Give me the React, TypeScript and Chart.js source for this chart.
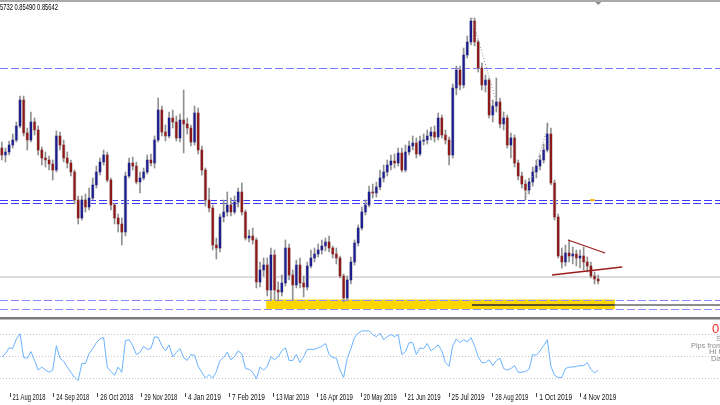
import React, { useEffect, useRef } from "react";
import { Chart, registerables } from "chart.js";
Chart.register(...registerables);

// ---- Daily EURGBP-style candles (2 sessions per candle) ----
const opens = [
  0.8956, 0.8935, 0.8944, 0.8965, 0.8980, 0.9022, 0.9100, 0.9001, 0.8980, 0.9034,
  0.9010, 0.8950, 0.8926, 0.8920, 0.8908, 0.8890, 0.8992, 0.8965, 0.8926, 0.8911,
  0.8884, 0.8800, 0.8746, 0.8800, 0.8779, 0.8806, 0.8845, 0.8884, 0.8914, 0.8935,
  0.8860, 0.8785, 0.8746, 0.8728, 0.8704, 0.8872, 0.8911, 0.8902, 0.8854, 0.8866,
  0.8884, 0.8920, 0.8911, 0.8980, 0.9070, 0.9004, 0.8992, 0.9046, 0.9034, 0.8986,
  0.9040, 0.9028, 0.9016, 0.8974, 0.9061, 0.8950, 0.8890, 0.8800, 0.8776, 0.8665,
  0.8656, 0.8749, 0.8764, 0.8785, 0.8764, 0.8794, 0.8824, 0.8764, 0.8686, 0.8692,
  0.8680, 0.8554, 0.8590, 0.8605, 0.8530, 0.8635, 0.8530, 0.8524, 0.8551, 0.8656,
  0.8575, 0.8545, 0.8605, 0.8551, 0.8539, 0.8602, 0.8626, 0.8638, 0.8650, 0.8662,
  0.8674, 0.8656, 0.8638, 0.8626, 0.8572, 0.8506, 0.8560, 0.8614, 0.8671, 0.8716,
  0.8764, 0.8785, 0.8824, 0.8821, 0.8839, 0.8866, 0.8884, 0.8905, 0.8917, 0.8911,
  0.8941, 0.8890, 0.8944, 0.8962, 0.8971, 0.8938, 0.8977, 0.8980, 0.8992, 0.9004,
  0.8989, 0.9046, 0.8995, 0.8980, 0.8935, 0.9136, 0.9190, 0.9145, 0.9235, 0.9274,
  0.9337, 0.9274, 0.9196, 0.9145, 0.9160, 0.9055, 0.9082, 0.9094, 0.9028, 0.9046,
  0.8965, 0.8986, 0.8911, 0.8872, 0.8848, 0.8830, 0.8854, 0.8884, 0.8902, 0.8920,
  0.8950, 0.8998, 0.8851, 0.8749, 0.8632, 0.8614, 0.8641, 0.8632, 0.8638, 0.8626,
  0.8632, 0.8614, 0.8602, 0.8572, 0.8563,
];
const highs = [
  0.8974, 0.8956, 0.8977, 0.8998, 0.9034, 0.9112, 0.9112, 0.9016, 0.9064, 0.9046,
  0.9022, 0.8959, 0.8944, 0.8932, 0.8920, 0.9007, 0.9004, 0.8980, 0.8944, 0.8920,
  0.8890, 0.8812, 0.8812, 0.8818, 0.8836, 0.8866, 0.8902, 0.8926, 0.8950, 0.8944,
  0.8866, 0.8791, 0.8758, 0.8746, 0.8884, 0.8926, 0.8929, 0.8914, 0.8884, 0.8896,
  0.8935, 0.8938, 0.8992, 0.9106, 0.9082, 0.9025, 0.9064, 0.9070, 0.9052, 0.9058,
  0.9130, 0.9046, 0.9025, 0.9082, 0.9076, 0.8962, 0.8896, 0.8836, 0.8785, 0.8686,
  0.8758, 0.8800, 0.8824, 0.8806, 0.8812, 0.8836, 0.8851, 0.8770, 0.8710, 0.8716,
  0.8686, 0.8614, 0.8626, 0.8626, 0.8656, 0.8650, 0.8554, 0.8575, 0.8680, 0.8668,
  0.8590, 0.8620, 0.8626, 0.8572, 0.8614, 0.8650, 0.8656, 0.8668, 0.8680, 0.8686,
  0.8692, 0.8662, 0.8656, 0.8632, 0.8578, 0.8572, 0.8629, 0.8680, 0.8725, 0.8779,
  0.8800, 0.8842, 0.8848, 0.8854, 0.8890, 0.8905, 0.8920, 0.8935, 0.8938, 0.8956,
  0.8956, 0.8965, 0.8977, 0.8992, 0.8986, 0.8992, 0.8998, 0.9010, 0.9019, 0.9022,
  0.9061, 0.9055, 0.9010, 0.8989, 0.9148, 0.9202, 0.9202, 0.9256, 0.9292, 0.9346,
  0.9346, 0.9280, 0.9211, 0.9175, 0.9166, 0.9100, 0.9166, 0.9106, 0.9064, 0.9055,
  0.9001, 0.8995, 0.8920, 0.8884, 0.8860, 0.8866, 0.8899, 0.8920, 0.8935, 0.8968,
  0.9031, 0.9016, 0.8860, 0.8758, 0.8656, 0.8665, 0.8680, 0.8659, 0.8650, 0.8650,
  0.8659, 0.8629, 0.8614, 0.8584, 0.8575,
];
const lows = [
  0.8920, 0.8914, 0.8935, 0.8956, 0.8974, 0.9016, 0.8992, 0.8950, 0.8974, 0.8995,
  0.8935, 0.8905, 0.8899, 0.8890, 0.8860, 0.8884, 0.8950, 0.8914, 0.8896, 0.8872,
  0.8788, 0.8728, 0.8740, 0.8764, 0.8770, 0.8800, 0.8836, 0.8875, 0.8905, 0.8854,
  0.8770, 0.8728, 0.8704, 0.8665, 0.8692, 0.8866, 0.8890, 0.8848, 0.8821, 0.8860,
  0.8878, 0.8902, 0.8896, 0.8974, 0.8992, 0.8977, 0.8986, 0.9016, 0.8977, 0.8974,
  0.8941, 0.8998, 0.8962, 0.8965, 0.8938, 0.8875, 0.8782, 0.8764, 0.8650, 0.8623,
  0.8644, 0.8734, 0.8752, 0.8752, 0.8758, 0.8779, 0.8755, 0.8680, 0.8674, 0.8668,
  0.8536, 0.8539, 0.8572, 0.8512, 0.8500, 0.8500, 0.8497, 0.8512, 0.8542, 0.8560,
  0.8500, 0.8536, 0.8536, 0.8509, 0.8530, 0.8596, 0.8614, 0.8629, 0.8638, 0.8647,
  0.8644, 0.8626, 0.8608, 0.8566, 0.8494, 0.8500, 0.8548, 0.8605, 0.8662, 0.8710,
  0.8755, 0.8779, 0.8806, 0.8809, 0.8830, 0.8854, 0.8872, 0.8890, 0.8896, 0.8902,
  0.8884, 0.8884, 0.8935, 0.8950, 0.8926, 0.8932, 0.8965, 0.8968, 0.8980, 0.8974,
  0.8980, 0.8986, 0.8968, 0.8905, 0.8926, 0.9115, 0.9130, 0.9136, 0.9226, 0.9265,
  0.9262, 0.9184, 0.9130, 0.9124, 0.9046, 0.9034, 0.9064, 0.9016, 0.9010, 0.8956,
  0.8926, 0.8899, 0.8860, 0.8836, 0.8800, 0.8818, 0.8842, 0.8866, 0.8890, 0.8911,
  0.8944, 0.8845, 0.8740, 0.8626, 0.8596, 0.8602, 0.8614, 0.8608, 0.8602, 0.8596,
  0.8590, 0.8584, 0.8566, 0.8548, 0.8548,
];
const closes = [
  0.8935, 0.8944, 0.8965, 0.8980, 0.9022, 0.9100, 0.9001, 0.8980, 0.9034, 0.9010,
  0.8950, 0.8926, 0.8920, 0.8908, 0.8890, 0.8992, 0.8965, 0.8926, 0.8911, 0.8884,
  0.8800, 0.8746, 0.8800, 0.8779, 0.8806, 0.8845, 0.8884, 0.8914, 0.8935, 0.8860,
  0.8785, 0.8746, 0.8728, 0.8704, 0.8872, 0.8911, 0.8902, 0.8854, 0.8866, 0.8884,
  0.8920, 0.8911, 0.8980, 0.9070, 0.9004, 0.8992, 0.9046, 0.9034, 0.8986, 0.9040,
  0.9028, 0.9016, 0.8974, 0.9061, 0.8950, 0.8890, 0.8800, 0.8776, 0.8665, 0.8656,
  0.8749, 0.8764, 0.8785, 0.8764, 0.8794, 0.8824, 0.8764, 0.8686, 0.8692, 0.8680,
  0.8554, 0.8590, 0.8605, 0.8530, 0.8635, 0.8530, 0.8524, 0.8551, 0.8656, 0.8575,
  0.8545, 0.8605, 0.8551, 0.8539, 0.8602, 0.8626, 0.8638, 0.8650, 0.8662, 0.8674,
  0.8656, 0.8638, 0.8626, 0.8572, 0.8506, 0.8560, 0.8614, 0.8671, 0.8716, 0.8764,
  0.8785, 0.8824, 0.8821, 0.8839, 0.8866, 0.8884, 0.8905, 0.8917, 0.8911, 0.8941,
  0.8890, 0.8944, 0.8962, 0.8971, 0.8938, 0.8977, 0.8980, 0.8992, 0.9004, 0.8989,
  0.9046, 0.8995, 0.8980, 0.8935, 0.9136, 0.9190, 0.9145, 0.9235, 0.9274, 0.9337,
  0.9274, 0.9196, 0.9145, 0.9160, 0.9055, 0.9082, 0.9094, 0.9028, 0.9046, 0.8965,
  0.8986, 0.8911, 0.8872, 0.8848, 0.8830, 0.8854, 0.8884, 0.8902, 0.8920, 0.8950,
  0.8998, 0.8851, 0.8749, 0.8632, 0.8614, 0.8641, 0.8632, 0.8638, 0.8626, 0.8632,
  0.8614, 0.8602, 0.8572, 0.8563, 0.8557,
];
// ---- oscillator (0..100) ----
const oscillator = [
  49, 53, 61, 60, 73, 80, 48, 47, 56, 44,
  31, 35, 31, 28, 31, 64, 47, 43, 35, 28,
  21, 17, 40, 40, 53, 60, 68, 73, 75, 35,
  29, 24, 35, 28, 71, 72, 64, 52, 55, 63,
  59, 60, 76, 75, 64, 57, 65, 49, 55, 60,
  48, 44, 52, 51, 36, 28, 20, 25, 20, 29,
  44, 48, 55, 45, 49, 57, 53, 33, 32, 28,
  19, 35, 31, 36, 49, 45, 49, 57, 61, 44,
  44, 52, 41, 49, 59, 59, 59, 61, 63, 67,
  52, 48, 47, 31, 21, 47, 60, 75, 81, 84,
  84, 84, 79, 76, 81, 72, 76, 79, 76, 79,
  52, 56, 68, 68, 52, 61, 60, 67, 57, 61,
  65, 57, 41, 36, 64, 73, 68, 72, 69, 75,
  64, 49, 41, 41, 45, 37, 44, 47, 33, 31,
  33, 37, 28, 28, 29, 32, 52, 51, 57, 64,
  72, 36, 24, 21, 21, 33, 35, 35, 36, 37,
  37, 41, 32, 27, 31,
];
const oscLevels = [80, 50, 20];

// ---- time axis ----
const tickIndex = [2.75, 14.8, 26.9, 39.0, 51.0, 63.1, 75.2, 87.3, 99.3, 111.4, 123.5, 135.5, 147.6, 159.7];
const tickLabels = [
  "21 Aug 2018", "24 Sep 2018", "26 Oct 2018", "29 Nov 2018", "4 Jan 2019", "7 Feb 2019",
  "13 Mar 2019", "16 Apr 2019", "20 May 2019", "21 Jun 2019", "25 Jul 2019",
  "28 Aug 2019", "1 Oct 2019", "4 Nov 2019",
];

// ---- drawn objects (price levels / trendlines) ----
const headerText = "5732 0.85490 0.85642";
const levelUpper = 0.9196;
const levelDouble = [0.8801, 0.8792];
const levelGray = 0.8569;
const levelZoneEdges = [0.85015, 0.8473];
const zoneRange = [73.2, 169.1];
const supportLevel = 0.8485;
const supportFrom = 129.8;
const triangleUpper = [[156.2, 0.868], [166.4, 0.8641]];
const triangleLower = [[151.8, 0.8575], [171.1, 0.8599]];
const dottedLines = [
  [[129.8, 0.9346], [136.1, 0.9109]],
  [[144.4, 0.88], [151.0, 0.9031]],
];
const panelTexts = ["0", "S", "Pips from", "Hi t", "Da"];

const X_MAX = 198;
const FONT = "'Liberation Sans', Arial, sans-serif";

export default function App() {
  const mainRef = useRef<HTMLCanvasElement>(null);
  const oscRef = useRef<HTMLCanvasElement>(null);

  useEffect(() => {
    document.body.style.margin = "0";
    const idx = opens.map((_, i) => i + 0.5);

    const mainDecor = {
      id: "mainDecor",
      beforeDatasetsDraw(chart: any) {
        const { ctx, scales } = chart;
        const x = scales.x, y = scales.y;
        const W = chart.width;
        const hline = (v: number, color: string, w: number, dash: number[], x0 = 0, x1 = W) => {
          const py = Math.round(y.getPixelForValue(v)) + (w % 2 ? 0.5 : 0);
          ctx.beginPath();
          ctx.setLineDash(dash);
          ctx.strokeStyle = color;
          ctx.lineWidth = w;
          ctx.moveTo(x0, py);
          ctx.lineTo(x1, py);
          ctx.stroke();
        };
        ctx.save();
        const zx0 = x.getPixelForValue(zoneRange[0]);
        const zx1 = x.getPixelForValue(zoneRange[1]);
        const zy0 = y.getPixelForValue(levelZoneEdges[0]);
        const zy1 = y.getPixelForValue(levelZoneEdges[1]);
        ctx.fillStyle = "#ffd700";
        ctx.fillRect(zx0, zy0, zx1 - zx0, zy1 - zy0);
        hline(levelGray, "#dcdcdc", 2, []);
        hline(levelUpper, "#7878ff", 1, [8, 3]);
        hline(levelDouble[0], "#3a3aff", 1, [8, 3]);
        hline(levelDouble[1], "#3a3aff", 1, [8, 3]);
        hline(levelZoneEdges[0], "#8c8cff", 1, [8, 3]);
        hline(levelZoneEdges[1], "#8c8cff", 1, [8, 3]);
        hline(supportLevel, "#5c5530", 2, [], x.getPixelForValue(supportFrom), zx1);
        hline(supportLevel, "#8e8e8e", 2, [], zx1, W);
        ctx.restore();
      },
      afterDatasetsDraw(chart: any) {
        const { ctx, scales } = chart;
        const x = scales.x, y = scales.y;
        const W = chart.width;
        const seg = (pts: number[][], color: string, w: number, dash: number[]) => {
          ctx.beginPath();
          ctx.setLineDash(dash);
          ctx.strokeStyle = color;
          ctx.lineWidth = w;
          ctx.moveTo(x.getPixelForValue(pts[0][0]), y.getPixelForValue(pts[0][1]));
          ctx.lineTo(x.getPixelForValue(pts[1][0]), y.getPixelForValue(pts[1][1]));
          ctx.stroke();
        };
        ctx.save();
        seg(triangleUpper, "#9c1c1c", 1.3, []);
        seg(triangleLower, "#9c1c1c", 1.3, []);
        dottedLines.forEach((d) => seg(d, "#8a8a8a", 1, [1, 2]));
        ctx.fillStyle = "#ffb000";
        ctx.fillRect(x.getPixelForValue(162.8) - 2, y.getPixelForValue(levelDouble[0]) - 0.5, 5, 2);
        ctx.setLineDash([]);
        ctx.fillStyle = "#a9a9a9";
        ctx.fillRect(0, 0, W, 2);
        const mx = x.getPixelForValue(164.5);
        ctx.beginPath();
        ctx.moveTo(mx - 3, 2);
        ctx.lineTo(mx + 3, 2);
        ctx.lineTo(mx, 5);
        ctx.closePath();
        ctx.fillStyle = "#8a8a8a";
        ctx.fill();
        ctx.fillStyle = "#000";
        ctx.font = `9px ${FONT}`;
        ctx.textBaseline = "top";
        ctx.textAlign = "left";
        ctx.fillText(headerText, 0, 3, 58);
        ctx.restore();
      },
    };

    const bull = "#1c1c8e";
    const bear = "#8e1818";
    const main = new Chart(mainRef.current!, {
      type: "bar",
      data: {
        datasets: [
          {
            data: idx.map((v, i) => ({ x: v, y: [lows[i], highs[i]] })) as any,
            backgroundColor: "#909090",
            barThickness: 1,
            grouped: false,
            order: 2,
          } as any,
          {
            data: idx.map((v, i) => ({ x: v, y: [opens[i], closes[i]] })) as any,
            backgroundColor: "#cfcfcf",
            barThickness: 3,
            grouped: false,
            order: 1,
          } as any,
          {
            data: idx.map((v, i) => ({ x: v, y: [opens[i], closes[i]] })) as any,
            backgroundColor: (c: any) => {
              const i = c.dataIndex;
              if (i === undefined) return bull;
              return closes[i] >= opens[i] ? bull : bear;
            },
            barThickness: 1.6,
            grouped: false,
            order: 0,
          } as any,
        ],
      },
      options: {
        animation: false,
        responsive: false,
        maintainAspectRatio: false,
        layout: { padding: { top: 3, bottom: 3, left: 0, right: 0 } },
        plugins: { legend: { display: false }, tooltip: { enabled: false } },
        scales: {
          x: { type: "linear", min: 0, max: X_MAX, display: false, offset: false },
          y: { min: 0.8461, max: 0.9391, display: false },
        },
      } as any,
      plugins: [mainDecor],
    });

    const oscDecor = {
      id: "oscDecor",
      beforeDatasetsDraw(chart: any) {
        const { ctx, scales } = chart;
        const y = scales.y;
        const W = chart.width;
        ctx.save();
        ctx.fillStyle = "#7d7d7d";
        ctx.fillRect(0, 1, W, 2.5);
        ctx.strokeStyle = "#c4c4c4";
        ctx.lineWidth = 1;
        ctx.setLineDash([1, 2]);
        oscLevels.forEach((lv) => {
          const py = Math.round(y.getPixelForValue(lv)) + 0.5;
          ctx.beginPath();
          ctx.moveTo(0, py);
          ctx.lineTo(W, py);
          ctx.stroke();
        });
        ctx.restore();
      },
      afterDraw(chart: any) {
        const { ctx, scales, chartArea } = chart;
        const x = scales.x;
        ctx.save();
        // time labels, placed by the x scale
        ctx.textAlign = "left";
        ctx.textBaseline = "middle";
        ctx.fillStyle = "#111";
        ctx.font = `8.5px ${FONT}`;
        tickLabels.forEach((t, k) => {
          ctx.fillText(t, x.getPixelForValue(tickIndex[k]) + 2.5, chartArea.bottom + 5, 33);
        });
        // side texts
        ctx.fillStyle = "#ff2a2a";
        ctx.font = `13px ${FONT}`;
        ctx.fillText(panelTexts[0], 712, 13);
        ctx.fillStyle = "#8c8c8c";
        ctx.font = `8px ${FONT}`;
        ctx.fillText(panelTexts[1], 716, 23, 6);
        ctx.fillText(panelTexts[2], 691, 30, 31);
        ctx.fillText(panelTexts[3], 709, 36, 12);
        ctx.fillText(panelTexts[4], 711, 43, 10);
        ctx.restore();
      },
    };

    const osc = new Chart(oscRef.current!, {
      type: "line",
      data: {
        datasets: [
          {
            data: idx.map((v, i) => ({ x: v, y: oscillator[i] })) as any,
            borderColor: "#6ab2ff",
            borderWidth: 1,
            pointRadius: 0,
            tension: 0,
          },
        ],
      },
      options: {
        animation: false,
        responsive: false,
        maintainAspectRatio: false,
        layout: { padding: { top: 3, bottom: 8, left: 0, right: 0 } },
        plugins: { legend: { display: false }, tooltip: { enabled: false } },
        scales: {
          x: {
            type: "linear",
            min: 0,
            max: X_MAX,
            offset: false,
            afterBuildTicks: (s: any) => {
              s.ticks = tickIndex.map((v) => ({ value: v }));
            },
            ticks: { display: false },
            grid: { drawOnChartArea: false, drawTicks: true, tickLength: 4, color: "#444" },
            border: { display: false },
          },
          y: { min: 0, max: 100, display: false },
        },
      } as any,
      plugins: [oscDecor],
    });

    return () => {
      main.destroy();
      osc.destroy();
    };
  }, []);

  return (
    <div style={{ width: 720, height: 405, background: "#fff", overflow: "hidden" }}>
      <canvas ref={mainRef} width={720} height={316} style={{ display: "block" }} />
      <canvas ref={oscRef} width={720} height={89} style={{ display: "block" }} />
    </div>
  );
}
